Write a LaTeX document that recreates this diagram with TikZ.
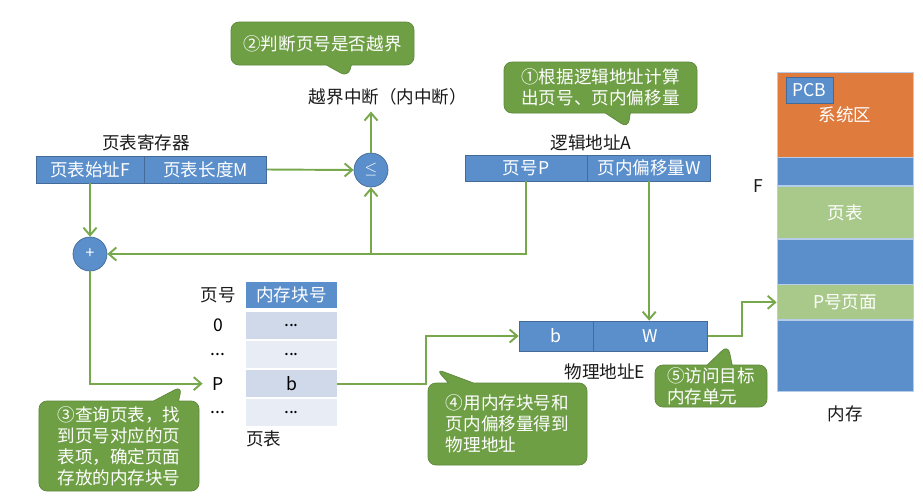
\documentclass[tikz,border=0pt]{standalone}
\usepackage{fontspec}
\setmainfont{Noto Sans CJK SC}
\usepackage{xcolor}
\usetikzlibrary{arrows.meta, positioning, calc, shapes.callouts}

\definecolor{boxblue}{HTML}{5B8FCB}
\definecolor{tipgreen}{HTML}{6F9F45}
\definecolor{linegreen}{HTML}{77A84C}
\definecolor{sysorange}{HTML}{E07B3E}
\definecolor{pagegreen}{HTML}{A8C98A}
\definecolor{rowdark}{HTML}{CFD9EA}
\definecolor{rowlight}{HTML}{E8EDF5}
\newcommand{\labelsize}{\fontsize{10}{12}\selectfont}

\begin{document}
\begin{tikzpicture}[
        x=0.2mm, y=-0.2mm,
        field/.style={rectangle, draw=boxblue!75!black, fill=boxblue, text=white, minimum height=5.4mm, inner sep=0pt, font=\labelsize},
        op/.style={circle, draw=boxblue!75!black, fill=boxblue, text=white, minimum size=6.8mm, inner sep=0pt, font=\small},
        cell/.style={rectangle, minimum width=18.2mm, minimum height=5.4mm, inner sep=0pt, font=\labelsize},
        rowlab/.style={minimum width=6mm, inner sep=0pt, font=\labelsize},
        band/.style={rectangle, draw=white!55!boxblue, fill=boxblue, text=white, minimum width=27.2mm, inner sep=0pt, font=\labelsize},
        txt/.style={font=\labelsize, text=black!90},
        tip/.style={rectangle callout, rounded corners=1.6mm, fill=tipgreen, draw=tipgreen!85!black, text=white, align=left, inner sep=0pt, font=\labelsize, callout pointer width=5mm},
        arr/.style={-{Straight Barb[length=1.5mm, width=2.6mm]}, line width=1.1pt, linegreen}
    ]
        \useasboundingbox (0,0) rectangle (923,501);

        \node[field, minimum width=21.6mm] (F) at (90,169.5) {页表始址F};
        \node[field, minimum width=24.4mm, right=0pt of F] (M) {页表长度M};
        \node[txt] (regname) at (146,143) {页表寄存器};

        \node[op] (le) at (371,170) {$\leq$};
        \node[op] (plus) at (90,254) {+};
        \node[txt] (irq) at (388,97) {越界中断（内中断）};

        \node[field, minimum width=24.4mm, minimum height=5.2mm] (pP) at (526,168) {页号P};
        \node[field, minimum width=24.6mm, minimum height=5.2mm, right=0pt of pP] (aW) {页内偏移量W};
        \node[txt] (aname) at (591,143) {逻辑地址A};

        \node[txt] (hl) at (218,295) {页号};
        \node[cell, fill=boxblue, text=white, minimum height=5.2mm] (hd) at (291.5,295) {内存块号};
        \node[cell, fill=rowdark, below=0.6mm of hd] (r0) {...};
        \node[cell, fill=rowlight, below=0.3mm of r0] (r1) {...};
        \node[cell, fill=rowdark, below=0.3mm of r1] (r2) {b};
        \node[cell, fill=rowlight, below=0.3mm of r2] (r3) {...};
        \node[rowlab] (l0) at (r0 -| hl) {0};
        \node[rowlab] (l1) at (r1 -| hl) {...};
        \node[rowlab] (lP) at (r2 -| hl) {P};
        \node[rowlab] (l3) at (r3 -| hl) {...};
        \node[txt, anchor=north west, inner sep=0pt] (ptname) at ([yshift=-0.8mm]r3.south west) {页表};

        \node[field, minimum width=14.8mm, minimum height=6mm] (eb) at (556,336) {b};
        \node[field, minimum width=22.8mm, minimum height=6mm, right=0pt of eb] (eW) {W};
        \node[txt] (ename) at (605,372) {物理地址E};

        \node[band, fill=sysorange, minimum height=17mm] (sys) at (845,114.5) {系统区};
        \node[band, minimum height=5.6mm, below=0pt of sys] (m1) {};
        \node[band, fill=pagegreen, minimum height=10.4mm, below=0pt of m1] (ptab) {页表};
        \node[band, minimum height=9mm, below=0pt of ptab] (m2) {};
        \node[band, fill=pagegreen, minimum height=7mm, below=0pt of m2] (ppage) {P号页面};
        \node[band, minimum height=14.2mm, below=0pt of ppage] (m3) {};
        \node[field, minimum width=9.4mm, minimum height=5.2mm] (pcb) at (809.5,90) {PCB};
        \node[txt, left=1.5mm of ptab.north west] (fmark) {F};
        \node[txt, below=1.5mm of m3] (memname) {内存};

        \node[tip, minimum width=36.6mm, minimum height=8.6mm, callout absolute pointer={(348,77)}] (c2) at (322.5,43.5) {②判断页号是否越界};
        \node[tip, minimum width=38.6mm, minimum height=10.2mm, callout absolute pointer={(628,128)}] (c1) at (600.5,87.5) {①根据逻辑地址计算\\出页号、页内偏移量};
        \node[tip, minimum width=32mm, minimum height=18mm, callout absolute pointer={(182,386)}] (c3) at (119,446) {③查询页表，找\\到页号对应的页\\表项，确定页面\\存放的内存块号};
        \node[tip, minimum width=31.8mm, minimum height=16.4mm, callout absolute pointer={(436,369)}] (c4) at (507.5,424) {④用内存块号和\\页内偏移量得到\\物理地址};
        \node[tip, minimum width=22.4mm, minimum height=8.4mm, callout absolute pointer={(728,345)}] (c5) at (711,386) {⑤访问目标\\内存单元};

        \draw[arr] (M.east) -- (le.west);
        \draw[arr] (le.north) -- (le.north |- irq.south);
        \draw[arr] (F.south) -- (plus.north);
        \draw[arr] (pP.south) |- (plus.east);
        \draw[arr] (le.south |- plus.east) -- (le.south);
        \draw[arr] (plus.south) |- (lP.west);
        \draw[arr] (r2.east) -- ++(89,0) |- (eb.west);
        \draw[arr] (aW.south) -- (aW.south |- eW.north);
        \draw[arr] (eW.east) -- ++(34,0) |- (ppage.west);
    \end{tikzpicture}
\end{document}
